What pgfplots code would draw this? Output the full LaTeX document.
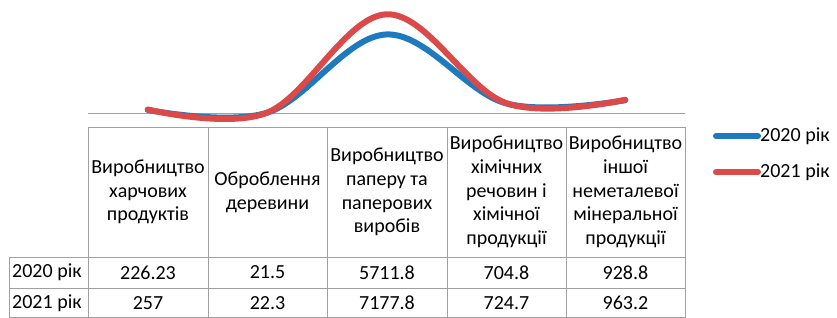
\documentclass[border=0pt]{standalone}
\usepackage{fontspec}
\setmainfont{Carlito}
\usepackage{pgfplots}
\pgfplotsset{compat=1.18}
\definecolor{c2020}{RGB}{30,122,190}
\definecolor{c2021}{RGB}{219,74,72}
\definecolor{gridc}{RGB}{160,160,160}
\begin{document}
\begin{tikzpicture}[x=1pt,y=1pt]
\useasboundingbox (0,0) rectangle (837,-318);
\begin{axis}[at={(88pt,-113pt)}, anchor=south west, scale only axis,
  width=597pt, height=110pt, xmin=-0.5, xmax=4.5, ymin=0, ymax=8000,
  axis x line*=bottom, axis y line=none, xtick=\empty, ytick=\empty,
  x axis line style={-, draw=gridc, line width=1pt}, clip=false]
\addplot[smooth, tension=0.6, line width=6pt, color=c2020, line cap=round]
  coordinates {(0,226.23) (1,21.5) (2,5711.8) (3,704.8) (4,928.8)};
\addplot[smooth, tension=0.6, line width=6pt, color=c2021, line cap=round]
  coordinates {(0,257) (1,22.3) (2,7177.8) (3,724.7) (4,963.2)};
\end{axis}
% table grid
\begin{scope}[draw=gridc, line width=1pt]
\draw (88,-127) -- (685,-127);
\draw (9,-257.5) -- (685,-257.5);
\draw (9,-288) -- (685,-288);
\draw (9,-317.5) -- (685,-317.5);
\draw (9,-257.5) -- (9,-318);
\foreach \x in {88,208,327,447,566,685} \draw (\x,-127) -- (\x,-318);
\end{scope}
\begin{scope}[font=\fontsize{20}{23.8}\selectfont]
\node[align=center] at (148,-192) {Виробництво\\харчових\\продуктів};
\node[align=center] at (267.5,-192) {Оброблення\\деревини};
\node[align=center] at (387,-192) {Виробництво\\паперу та\\паперових\\виробів};
\node[align=center] at (506.5,-192) {Виробництво\\хімічних\\речовин і\\хімічної\\продукції};
\node[align=center] at (625.5,-192) {Виробництво\\іншої\\неметалевої\\мінеральної\\продукції};
\node[anchor=west, inner sep=0pt] at (12,-272.5) {2020 рік};
\node[anchor=west, inner sep=0pt] at (12,-303) {2021 рік};
\node at (148,-272.5) {226.23};
\node at (267.5,-272.5) {21.5};
\node at (387,-272.5) {5711.8};
\node at (506.5,-272.5) {704.8};
\node at (625.5,-272.5) {928.8};
\node at (148,-303) {257};
\node at (267.5,-303) {22.3};
\node at (387,-303) {7177.8};
\node at (506.5,-303) {724.7};
\node at (625.5,-303) {963.2};
% legend
\draw[c2020, line width=6pt, line cap=round] (716,-136) -- (758,-136);
\node[anchor=west, inner sep=0pt] at (760,-136) {2020 рік};
\draw[c2021, line width=6pt, line cap=round] (716,-172) -- (758,-172);
\node[anchor=west, inner sep=0pt] at (760,-172) {2021 рік};
\end{scope}
\end{tikzpicture}
\end{document}
